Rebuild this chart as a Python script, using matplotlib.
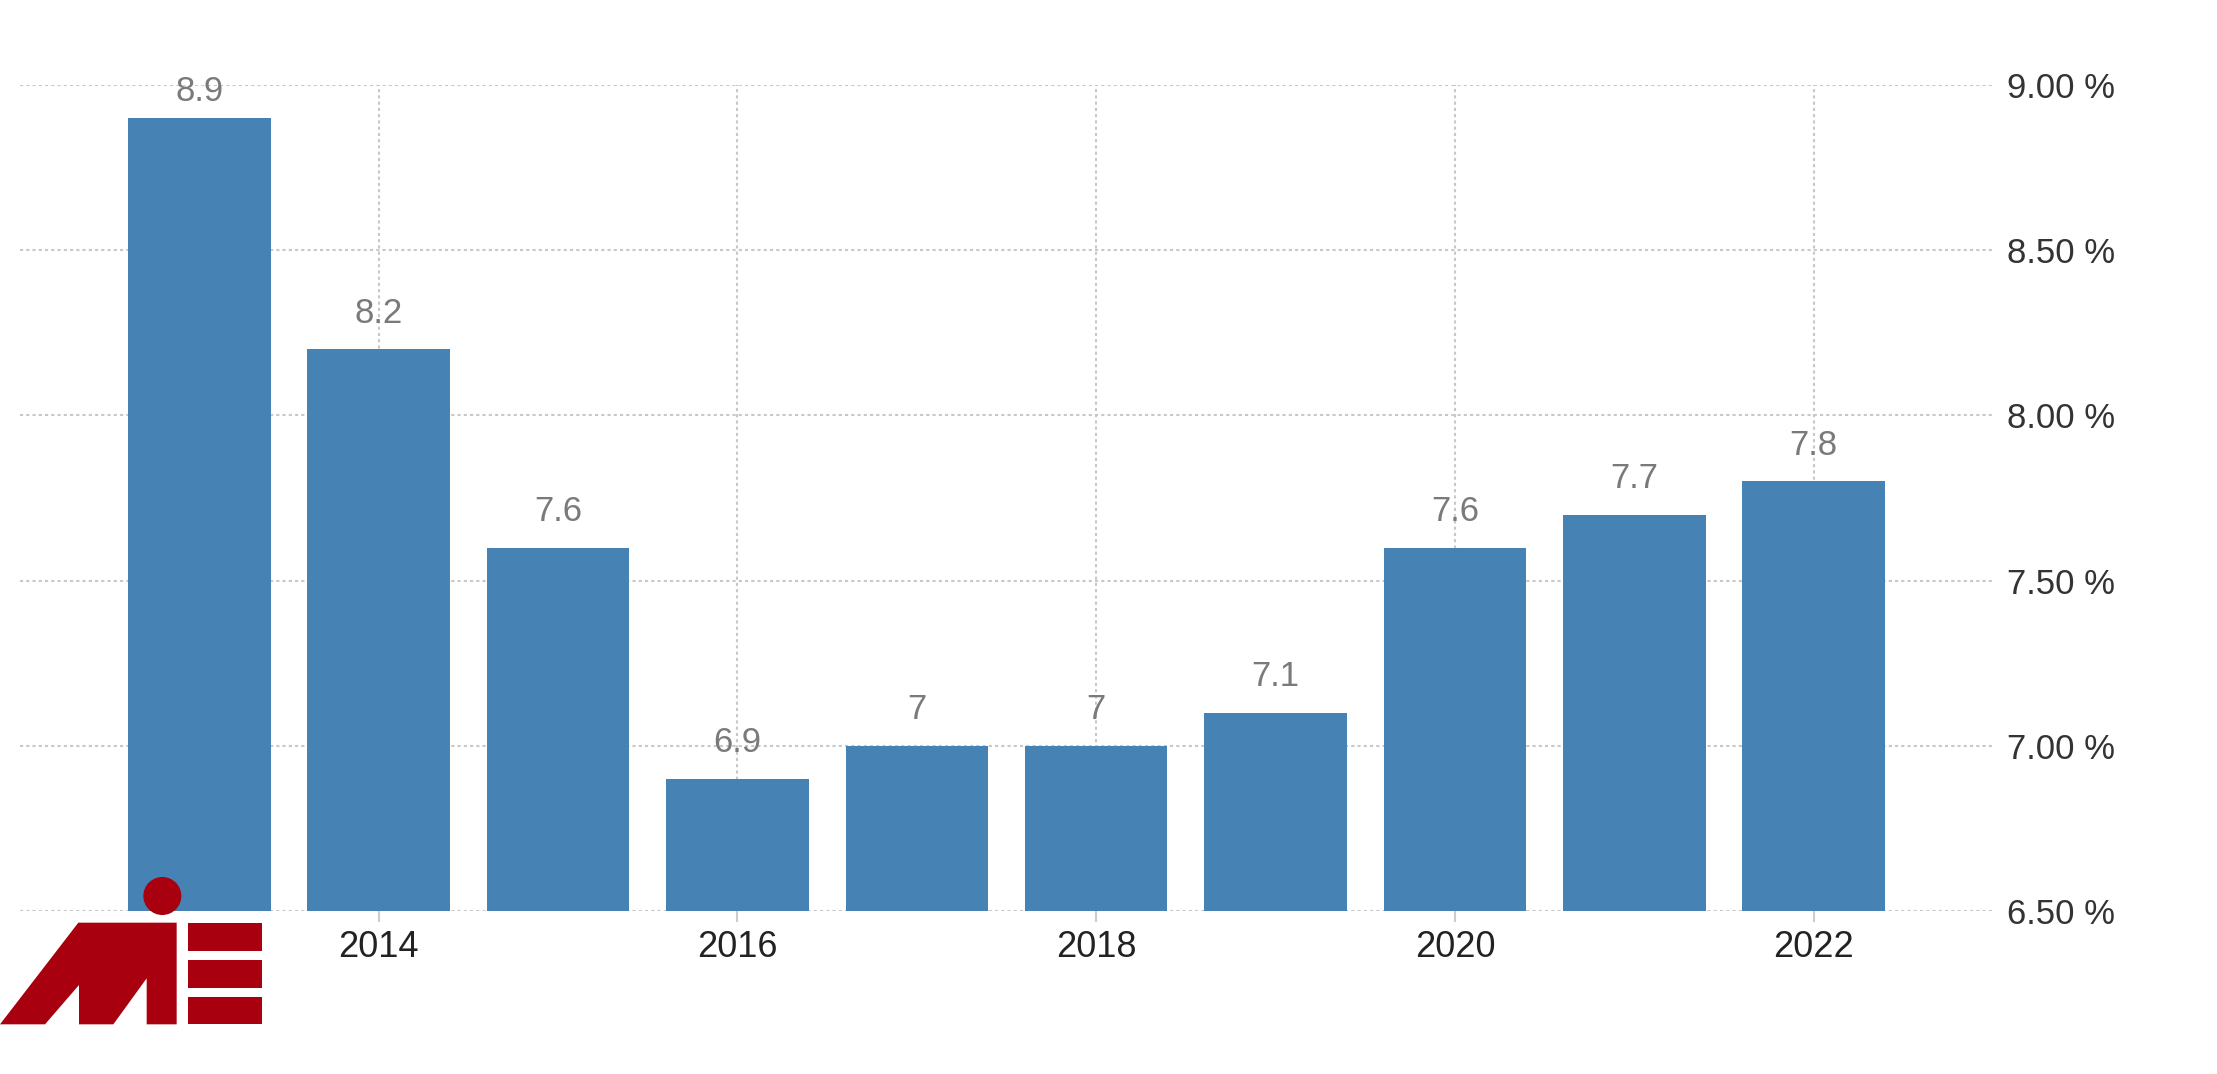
import matplotlib
matplotlib.use("Agg")
import matplotlib.pyplot as plt
from matplotlib.patches import Polygon, Circle, Rectangle

# ---- data ----
years = [2013, 2014, 2015, 2016, 2017, 2018, 2019, 2020, 2021, 2022]
values = [8.9, 8.2, 7.6, 6.9, 7.0, 7.0, 7.1, 7.6, 7.7, 7.8]
xtick_years = [2014, 2016, 2018, 2020, 2022]
ytick_values = [6.5, 7.0, 7.5, 8.0, 8.5, 9.0]

W, H = 2217, 1074
fig = plt.figure(figsize=(W / 100, H / 100), dpi=100)
plt.rcParams['font.family'] = ['Liberation Sans', 'DejaVu Sans']

ax_bottom_px, ax_top_px = 911, 85
ax = fig.add_axes([20 / W, 1 - ax_bottom_px / H, (1993 - 20) / W, (ax_bottom_px - ax_top_px) / H])
ymin, ymax = 6.5, 9.0
ax.bar(years, [v - ymin for v in values], bottom=ymin, width=0.795,
       color='#4682b4', zorder=2)

px_per_unit = (ax_bottom_px - ax_top_px) / (ymax - ymin)
pad_pt = 19.0                       # gap between bar top and label baseline
clamp_px = 17.0                     # label baseline may not go above plot top + this
for x, v in zip(years, values):
    avail_pt = ((ymax - v) * px_per_unit - clamp_px) / (100 / 72) + clamp_px / (100 / 72)
    room_pt = ((ymax - v) * px_per_unit - clamp_px) / (100 / 72)
    off = min(pad_pt, max(room_pt, 12.0))
    ax.annotate(f"{v:g}", (x, v), xytext=(0, off), textcoords='offset points',
                ha='center', va='baseline', fontsize=25, color='#7a7a7a', zorder=3)

ax.set_xlim(2012.0, 2023.0)
ax.set_ylim(ymin, ymax)
ax.set_xticks(xtick_years)
ax.set_xticklabels([str(y) for y in xtick_years])
ax.set_yticks(ytick_values)
ax.set_yticklabels([f"{v:.2f} %" for v in ytick_values])
ax.yaxis.tick_right()
ax.tick_params(axis='y', length=0, pad=10, labelsize=25, labelcolor='#333333')
ax.tick_params(axis='x', length=8, width=1.5, color='#cccccc', pad=6,
               labelsize=26, labelcolor='#222222')
for s in ax.spines.values():
    s.set_visible(False)
ax.grid(True, which='major', axis='both', color='#c8c8c8', linestyle=(0, (1.5, 1.5)),
        linewidth=1.5, zorder=0)
ax.set_axisbelow(True)

# ---- logo overlay (pixel coordinates) ----
lg = fig.add_axes([0, 0, 1, 1], zorder=10)
lg.set_xlim(0, W)
lg.set_ylim(H, 0)
lg.axis('off')
red = '#a8000e'
def p(x, y):
    return (x / 3, 860 + y / 3)
m_pts = [p(0, 493), p(235, 188), p(530, 188), p(530, 493), p(440, 493), p(440, 355),
         p(340, 493), p(237, 493), p(237, 375), p(135, 493)]
lg.add_patch(Polygon(m_pts, closed=True, color=red, lw=0))
for y0, y1 in [(188, 272), (300, 383), (410, 493)]:
    x0, yy0 = p(563, y0)
    x1, yy1 = p(787, y1)
    lg.add_patch(Rectangle((x0, yy0), x1 - x0, yy1 - yy0, color=red, lw=0))
cx, cy = p(487, 108)
lg.add_patch(Circle((cx, cy), 19, color=red, lw=0))

fig.savefig("out.png", dpi=100)
